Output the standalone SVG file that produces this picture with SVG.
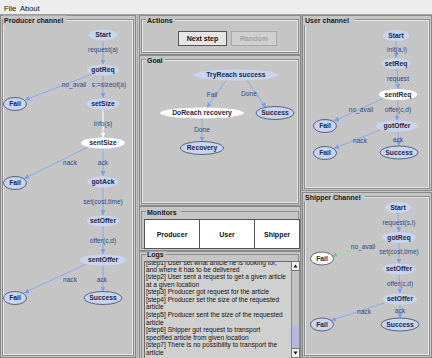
<svg xmlns="http://www.w3.org/2000/svg" width="432" height="358" viewBox="0 0 432 358">
<defs>
<style>
.bg{fill:#c5c5c5}
.ol{fill:none;stroke:#8a8a8a;stroke-width:1}
.et{fill:none;stroke:#8c8c8c;stroke-width:1}
.eh{fill:none;stroke:#e6e6e6;stroke-width:1}
.pt{font-family:"Liberation Sans",Arial,sans-serif;font-size:7px;font-weight:bold;fill:#1a1a1a}
.n{fill:#c9d5ee}
.nb{fill:#c9d5ee;stroke:#3a4666;stroke-width:0.8}
.nw{fill:#ffffff}
.nwb{fill:#ffffff;stroke:#3a4666;stroke-width:0.8}
.nt{font-family:"Liberation Sans",Arial,sans-serif;font-size:6.8px;font-weight:bold;fill:#1c2848;text-anchor:middle}
.el{font-family:"Liberation Sans",Arial,sans-serif;font-size:6.6px;fill:#2a4a88;text-anchor:middle}
.e{fill:none;stroke:#88a8ec;stroke-width:1;marker-end:url(#ah)}
.ew{fill:none;stroke:#ffffff;stroke-width:1;marker-end:url(#ahw)}
.eg{fill:none;stroke:#88e088;stroke-width:1;stroke-dasharray:2 1.5;marker-end:url(#ahg)}
.lg{font-family:"Liberation Sans",Arial,sans-serif;font-size:6.6px;fill:#111}
.mb{font-family:"Liberation Sans",Arial,sans-serif;font-size:7px;font-weight:bold;fill:#111;text-anchor:middle}
.mn{font-family:"Liberation Sans",Arial,sans-serif;font-size:7.5px;fill:#111}
</style>
<marker id="ah" viewBox="0 0 6 6" refX="6" refY="3" markerWidth="5" markerHeight="5" markerUnits="userSpaceOnUse" orient="auto"><path d="M0,0 L6,3 L0,6 z" fill="#7e9ee8"/></marker>
<marker id="ahw" viewBox="0 0 6 6" refX="6" refY="3" markerWidth="5" markerHeight="5" markerUnits="userSpaceOnUse" orient="auto"><path d="M0,0 L6,3 L0,6 z" fill="#ffffff"/></marker>
<marker id="ahg" viewBox="0 0 6 6" refX="6" refY="3" markerWidth="5" markerHeight="5" markerUnits="userSpaceOnUse" orient="auto"><path d="M0,0 L6,3 L0,6 z" fill="#70d070"/></marker>
<clipPath id="logclip"><rect x="145" y="262" width="146" height="96"/></clipPath>
</defs>

<!-- background -->
<rect x="0" y="0" width="432" height="358" class="bg"/>
<rect x="0" y="0" width="432" height="14" fill="#ededed"/>
<text class="mn" x="4" y="10.5">File</text>
<text class="mn" x="20" y="10.5">About</text>
<line x1="0" y1="14.5" x2="432" y2="14.5" stroke="#a0a0a0"/>

<!-- Producer panel -->
<g id="panel-producer">
<rect x="0.5" y="15.5" width="135" height="342" class="ol"/>
<rect x="2.5" y="19.5" width="131" height="336" class="et"/>
<rect x="3.5" y="20.5" width="129" height="334" class="eh"/>
<rect x="3" y="15.5" width="64" height="9" class="bg"/>
<text class="pt" x="4" y="22.5">Producer channel</text>
</g>
<!-- dividers -->
<line x1="137.5" y1="15" x2="137.5" y2="358" stroke="#a8a8a8"/>
<line x1="301.5" y1="15" x2="301.5" y2="358" stroke="#a8a8a8"/>

<!-- Actions panel -->
<g id="panel-actions">
<rect x="139.5" y="15.5" width="161" height="39" class="ol"/>
<rect x="141.5" y="19.5" width="157" height="33" class="et"/>
<rect x="142.5" y="20.5" width="155" height="31" class="eh"/>
<rect x="146" y="16" width="29" height="9" class="bg"/>
<text class="pt" x="147" y="22.5">Actions</text>
<g id="btn-next">
<rect x="178.5" y="31.5" width="48" height="14" fill="#e6e6e6" stroke="#555"/>
<text class="mb" x="202.5" y="41">Next step</text>
</g>
<g id="btn-random">
<rect x="231.5" y="31.5" width="45" height="14" fill="#cfcfcf" stroke="#a8a8a8"/>
<text class="mb" x="254" y="41" style="fill:#a4a4a4">Random</text>
</g>
</g>

<!-- Goal panel -->
<g id="panel-goal">
<rect x="139.5" y="55.5" width="161" height="150" class="ol"/>
<rect x="141.5" y="59.5" width="157" height="144" class="et"/>
<rect x="142.5" y="60.5" width="155" height="142" class="eh"/>
<rect x="146" y="56" width="19" height="9" class="bg"/>
<text class="pt" x="147" y="62.5">Goal</text>
</g>

<!-- Monitors panel -->
<g id="panel-monitors">
<rect x="139.5" y="206.5" width="161" height="44" class="ol"/>
<rect x="141.5" y="211.5" width="157" height="37" class="et"/>
<rect x="146" y="207" width="35" height="9" class="bg"/>
<text class="pt" x="147" y="214.5">Monitors</text>
<rect x="144.5" y="219.5" width="155" height="29" fill="#ffffff" stroke="#555"/>
<line x1="199.5" y1="219.5" x2="199.5" y2="248.5" stroke="#555"/>
<line x1="254.5" y1="219.5" x2="254.5" y2="248.5" stroke="#555"/>
<text class="mb" x="172" y="236.5">Producer</text>
<text class="mb" x="227" y="236.5">User</text>
<text class="mb" x="277" y="236.5">Shipper</text>
</g>

<!-- Logs panel -->
<g id="panel-logs">
<rect x="139.5" y="251.5" width="161" height="107" class="ol"/>
<rect x="141.5" y="254.5" width="157" height="104" class="et"/>
<rect x="146" y="251.5" width="20" height="8" class="bg"/>
<text class="pt" x="147" y="257">Logs</text>
<rect x="144.5" y="261.5" width="155" height="97" fill="#d0d0d0" stroke="#6a6a6a"/>
<g clip-path="url(#logclip)">
<text class="lg" x="146" y="264.6">[step1] User set what article he is looking for,</text>
<text class="lg" x="146" y="271.5">and where it has to be delivered</text>
<text class="lg" x="146" y="279">[step2] User sent a request to get a given article</text>
<text class="lg" x="146" y="286.6">at a given location</text>
<text class="lg" x="146" y="294.2">[step3] Producer got request for the article</text>
<text class="lg" x="146" y="301.8">[step4] Producer set the size of the requested</text>
<text class="lg" x="146" y="309.4">article</text>
<text class="lg" x="146" y="317">[step5] Producer sent the size of the requested</text>
<text class="lg" x="146" y="324.6">article</text>
<text class="lg" x="146" y="332.2">[step6] Shipper got request to transport</text>
<text class="lg" x="146" y="339.8">specified article from given location</text>
<text class="lg" x="146" y="347.4">[step7] There is no possibility to transport the</text>
<text class="lg" x="146" y="355">article</text>
</g>
<g id="scrollbar">
<rect x="291.5" y="261.5" width="8" height="96" fill="#c2c2c2" stroke="#8a8a8a"/>
<rect x="291.5" y="261.5" width="8" height="9" fill="#f2f2f2" stroke="#777"/>
<path d="M293.5,267.5 L295.5,264.5 L297.5,267.5 z" fill="#111"/>
<rect x="292" y="326" width="7" height="22" fill="#b6b6de"/>
<rect x="291.5" y="348.5" width="8" height="9" fill="#f2f2f2" stroke="#777"/>
<path d="M293.5,351.5 L295.5,354.5 L297.5,351.5 z" fill="#111"/>
</g>
</g>

<!-- User panel -->
<g id="panel-user">
<rect x="302.5" y="15.5" width="129" height="175" class="ol"/>
<rect x="304.5" y="19.5" width="125" height="169" class="et"/>
<rect x="305.5" y="20.5" width="123" height="167" class="eh"/>
<rect x="304" y="16" width="51" height="9" class="bg"/>
<text class="pt" x="305" y="22.5">User channel</text>
</g>

<!-- Shipper panel -->
<g id="panel-shipper">
<rect x="302.5" y="192.5" width="129" height="165" class="ol"/>
<rect x="304.5" y="196.5" width="125" height="159" class="et"/>
<rect x="305.5" y="197.5" width="123" height="157" class="eh"/>
<rect x="304" y="193" width="61" height="9" class="bg"/>
<text class="pt" x="305" y="199.5">Shipper Channel</text>
</g>

<!-- connectors -->
<g id="connectors">
<!-- producer -->
<line class="e" x1="103" y1="41" x2="103" y2="64.5"/>
<line class="e" x1="91" y1="74.5" x2="25" y2="100"/>
<line class="e" x1="103" y1="76" x2="103" y2="98"/>
<line class="ew" x1="103" y1="109.5" x2="103" y2="137.5"/>
<line class="e" x1="88" y1="147" x2="24" y2="178.5"/>
<line class="e" x1="103" y1="148" x2="103" y2="176"/>
<line class="e" x1="103" y1="187.5" x2="103" y2="215"/>
<line class="e" x1="103" y1="226.5" x2="103" y2="254"/>
<line class="e" x1="86" y1="264" x2="24" y2="293"/>
<line class="e" x1="103" y1="265.5" x2="103" y2="291.5"/>
<!-- goal -->
<line class="e" x1="226" y1="80.5" x2="207" y2="107.5"/>
<line class="e" x1="247" y1="80.5" x2="266" y2="107.5"/>
<line class="e" x1="202" y1="118.5" x2="202" y2="141.5"/>
<!-- user -->
<line class="e" x1="396" y1="41" x2="396" y2="58"/>
<line class="e" x1="397" y1="69" x2="398" y2="89"/>
<line class="e" x1="383" y1="98.5" x2="334" y2="121"/>
<line class="e" x1="398" y1="99.5" x2="397" y2="120.5"/>
<line class="e" x1="380" y1="130" x2="334" y2="148.5"/>
<line class="e" x1="398" y1="131.5" x2="399" y2="146"/>
<!-- shipper -->
<line class="e" x1="398" y1="213" x2="399" y2="232"/>
<line class="eg" x1="385" y1="240.5" x2="332" y2="256"/>
<line class="e" x1="399" y1="243" x2="399" y2="263.5"/>
<line class="e" x1="399" y1="274.5" x2="400" y2="293.5"/>
<line class="e" x1="384" y1="303" x2="331" y2="320.5"/>
<line class="e" x1="400" y1="304.5" x2="400" y2="318"/>
<!-- labels -->
<text class="el" x="103" y="51.5">request(a)</text>
<text class="el" x="74" y="87">no_avail</text>
<text class="el" x="109" y="87">s:=sizeof(a)</text>
<text class="el" x="103" y="126.3">info(s)</text>
<text class="el" x="70" y="165">nack</text>
<text class="el" x="103" y="165">ack</text>
<text class="el" x="103" y="203.5">set(cost,time)</text>
<text class="el" x="103" y="243">offer(c,d)</text>
<text class="el" x="70" y="282">nack</text>
<text class="el" x="102" y="282">ack</text>
<text class="el" x="212" y="97">Fail</text>
<text class="el" x="249" y="96">Done</text>
<text class="el" x="202" y="132">Done</text>
<text class="el" x="397" y="52">init(a,l)</text>
<text class="el" x="398" y="80.5">request</text>
<text class="el" x="361" y="112">no_avail</text>
<text class="el" x="398" y="112">offer(c,d)</text>
<text class="el" x="360" y="143">nack</text>
<text class="el" x="398" y="142">ack</text>
<text class="el" x="399" y="225">request(s,l)</text>
<text class="el" x="363" y="248.5">no_avail</text>
<text class="el" x="399" y="253.5">set(cost,time)</text>
<text class="el" x="400" y="285.5">offer(c,d)</text>
<text class="el" x="364" y="313.5">nack</text>
<text class="el" x="400" y="312.5">ack</text>
</g>

<!-- producer nodes -->
<g id="p-start"><ellipse class="n" cx="103" cy="35" rx="14" ry="5.5"/><text class="nt" x="103" y="37.4">Start</text></g>
<g id="p-gotReq"><ellipse class="n" cx="103" cy="70" rx="16" ry="5.5"/><text class="nt" x="103" y="72.4">gotReq</text></g>
<g id="p-fail1"><ellipse class="nb" cx="15" cy="104" rx="11.5" ry="6.5"/><text class="nt" x="15" y="106.4">Fail</text></g>
<g id="p-setSize"><ellipse class="n" cx="103" cy="104" rx="16.5" ry="5.5"/><text class="nt" x="103" y="106.4">setSize</text></g>
<g id="p-sentSize"><ellipse class="nw" cx="103" cy="143" rx="22" ry="5.5"/><text class="nt" x="103" y="145.4">sentSize</text></g>
<g id="p-fail2"><ellipse class="nb" cx="15" cy="183" rx="11.5" ry="6.5"/><text class="nt" x="15" y="185.4">Fail</text></g>
<g id="p-gotAck"><ellipse class="n" cx="103" cy="182" rx="15.5" ry="5.5"/><text class="nt" x="103" y="184.4">gotAck</text></g>
<g id="p-setOffer"><ellipse class="n" cx="103" cy="221" rx="16.5" ry="5.5"/><text class="nt" x="103" y="223.4">setOffer</text></g>
<g id="p-sentOffer"><ellipse class="n" cx="103" cy="260" rx="23.5" ry="5.5"/><text class="nt" x="103" y="262.4">sentOffer</text></g>
<g id="p-fail3"><ellipse class="nb" cx="15" cy="298" rx="11.5" ry="6.5"/><text class="nt" x="15" y="300.4">Fail</text></g>
<g id="p-success"><ellipse class="nb" cx="103" cy="298" rx="19" ry="6.5"/><text class="nt" x="103" y="300.4">Success</text></g>

<!-- goal nodes -->
<g id="g-try"><ellipse class="n" cx="236" cy="75" rx="42" ry="5.5"/><text class="nt" x="236" y="77.4">TryReach success</text></g>
<g id="g-doreach"><ellipse class="nw" cx="202" cy="113" rx="42" ry="5.5"/><text class="nt" x="202" y="115.4">DoReach recovery</text></g>
<g id="g-success"><ellipse class="nb" cx="275" cy="113" rx="19" ry="6.5"/><text class="nt" x="275" y="115.4">Success</text></g>
<g id="g-recovery"><ellipse class="nb" cx="202" cy="148" rx="21.5" ry="6.5"/><text class="nt" x="202" y="150.4">Recovery</text></g>

<!-- user nodes -->
<g id="u-start"><ellipse class="n" cx="396" cy="35.5" rx="13" ry="5.5"/><text class="nt" x="396" y="37.9">Start</text></g>
<g id="u-setReq"><ellipse class="n" cx="396" cy="63.5" rx="14.5" ry="5.5"/><text class="nt" x="396" y="65.9">setReq</text></g>
<g id="u-sentReq"><ellipse class="nw" cx="398" cy="94.5" rx="19" ry="5.5"/><text class="nt" x="398" y="96.9">sentReq</text></g>
<g id="u-fail1"><ellipse class="nb" cx="325" cy="126" rx="11.5" ry="6.5"/><text class="nt" x="325" y="128.4">Fail</text></g>
<g id="u-gotOffer"><ellipse class="n" cx="397" cy="126" rx="21" ry="5.5"/><text class="nt" x="397" y="128.4">gotOffer</text></g>
<g id="u-fail2"><ellipse class="nb" cx="325" cy="153" rx="11.5" ry="6.5"/><text class="nt" x="325" y="155.4">Fail</text></g>
<g id="u-success"><ellipse class="nb" cx="399" cy="152.5" rx="19" ry="6.5"/><text class="nt" x="399" y="154.9">Success</text></g>

<!-- shipper nodes -->
<g id="s-start"><ellipse class="n" cx="398" cy="207.5" rx="13" ry="5.5"/><text class="nt" x="398" y="209.9">Start</text></g>
<g id="s-gotReq"><ellipse class="n" cx="399" cy="237.5" rx="17" ry="5.5"/><text class="nt" x="399" y="239.9">gotReq</text></g>
<g id="s-fail1"><ellipse class="nwb" cx="322" cy="258.5" rx="11.5" ry="6.5"/><text class="nt" x="322" y="260.9">Fail</text></g>
<g id="s-setOffer"><ellipse class="n" cx="399" cy="269" rx="17" ry="5.5"/><text class="nt" x="399" y="271.4">setOffer</text></g>
<g id="s-setOffer2"><ellipse class="n" cx="400" cy="299" rx="17.5" ry="5.5"/><text class="nt" x="400" y="301.4">setOffer</text></g>
<g id="s-fail2"><ellipse class="nb" cx="322" cy="324.5" rx="11.5" ry="6.5"/><text class="nt" x="322" y="326.9">Fail</text></g>
<g id="s-success"><ellipse class="nb" cx="400" cy="324.5" rx="19" ry="6.5"/><text class="nt" x="400" y="326.9">Success</text></g>
</svg>
